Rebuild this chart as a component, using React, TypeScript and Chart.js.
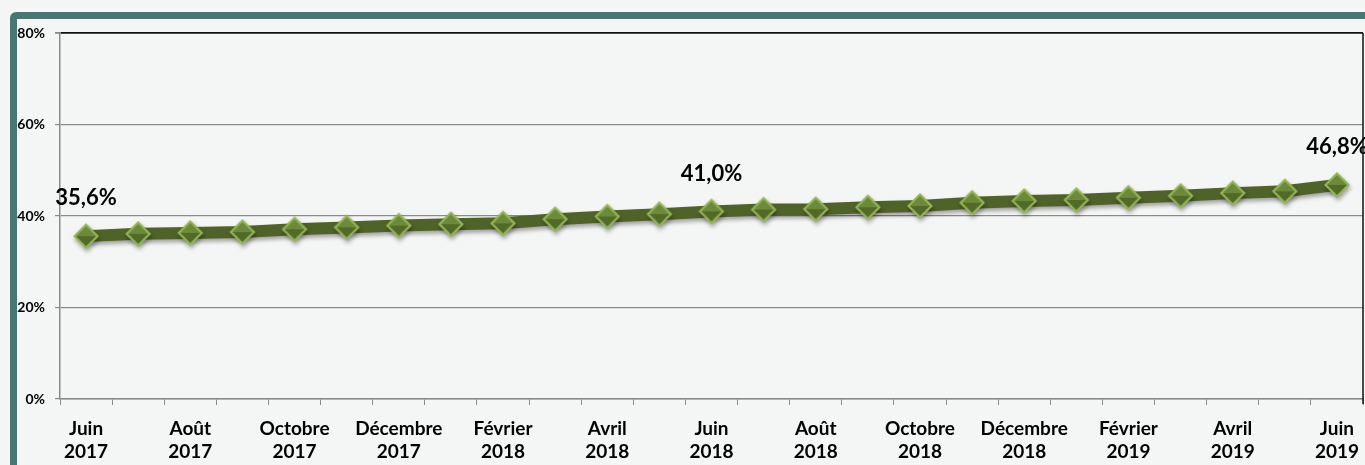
import React, { useEffect, useRef } from 'react';
import { Chart, registerables } from 'chart.js';

Chart.register(...registerables);

const months = [
  'Juin 2017', 'Juillet 2017', 'Août 2017', 'Septembre 2017', 'Octobre 2017', 'Novembre 2017',
  'Décembre 2017', 'Janvier 2018', 'Février 2018', 'Mars 2018', 'Avril 2018', 'Mai 2018',
  'Juin 2018', 'Juillet 2018', 'Août 2018', 'Septembre 2018', 'Octobre 2018', 'Novembre 2018',
  'Décembre 2018', 'Janvier 2019', 'Février 2019', 'Mars 2019', 'Avril 2019', 'Mai 2019', 'Juin 2019',
];
const rates = [
  35.6, 36.1, 36.3, 36.5, 37.1, 37.5, 37.9, 38.2, 38.4, 39.3, 39.9, 40.4,
  41.0, 41.4, 41.5, 41.9, 42.2, 42.9, 43.3, 43.5, 44.0, 44.4, 45.0, 45.4, 46.8,
];
const labelledPoints = [0, 12, 24];
const yMin = 0;
const yMax = 80;
const yStep = 20;

const BG = '#f4f6f6';
const FRAME = '#4b7773';
const GRID = '#8a8a8a';
const LINE = '#4f6228';

function makeMarker(): HTMLCanvasElement {
  const c = document.createElement('canvas');
  c.width = 30;
  c.height = 30;
  const g = c.getContext('2d')!;
  const cx = 15, cy = 15, r = 13;
  g.beginPath();
  g.moveTo(cx, cy - r); g.lineTo(cx + r, cy); g.lineTo(cx, cy + r); g.lineTo(cx - r, cy); g.closePath();
  g.fillStyle = '#94b655';
  g.fill();
  const ri = r - 3;
  g.beginPath();
  g.moveTo(cx - ri, cy); g.lineTo(cx, cy - ri); g.lineTo(cx + ri, cy); g.closePath();
  g.fillStyle = '#6c8a3a';
  g.fill();
  g.beginPath();
  g.moveTo(cx - ri, cy); g.lineTo(cx, cy + ri); g.lineTo(cx + ri, cy); g.closePath();
  g.fillStyle = '#516a28';
  g.fill();
  return c;
}

const decorPlugin = {
  id: 'decor',
  beforeDatasetsDraw(chart: any) {
    const ctx = chart.ctx;
    ctx.save();
    ctx.shadowColor = 'rgba(0,0,0,0.35)';
    ctx.shadowBlur = 4;
    ctx.shadowOffsetX = 1;
    ctx.shadowOffsetY = 3;
  },
  afterDatasetsDraw(chart: any) {
    const ctx = chart.ctx;
    ctx.restore();
    const meta = chart.getDatasetMeta(0);
    ctx.save();
    ctx.font = 'bold 22px Lato';
    ctx.fillStyle = '#000';
    ctx.textAlign = 'center';
    ctx.textBaseline = 'middle';
    labelledPoints.forEach((i) => {
      const p = meta.data[i];
      const txt = rates[i].toFixed(1).replace('.', ',') + '%';
      ctx.fillText(txt, p.x, p.y - 38);
    });
    ctx.restore();
  },
  afterDraw(chart: any) {
    const { ctx, chartArea } = chart;
    ctx.save();
    ctx.strokeStyle = '#111';
    ctx.lineWidth = 1.5;
    ctx.beginPath();
    ctx.moveTo(chartArea.right, chartArea.top);
    ctx.lineTo(chartArea.right, chartArea.bottom + 5);
    ctx.stroke();
    ctx.restore();
  },
};

export default function App() {
  const ref = useRef<HTMLCanvasElement>(null);

  useEffect(() => {
    if (!ref.current) return;
    const marker = makeMarker();
    const chart = new Chart(ref.current, {
      type: 'line',
      data: {
        labels: months,
        datasets: [
          {
            data: rates,
            borderColor: LINE,
            borderWidth: 12,
            tension: 0,
            pointStyle: marker as any,
            pointRadius: 13,
            pointHoverRadius: 13,
            clip: false as any,
          },
        ],
      },
      options: {
        animation: false,
        responsive: false,
        devicePixelRatio: 1,
        events: [],
        layout: { autoPadding: false, padding: { left: 0, right: 2, top: 33, bottom: 0 } },
        plugins: { legend: { display: false }, tooltip: { enabled: false } },
        scales: {
          x: {
            offset: true,
            afterFit: (s: any) => {
              s.height = 66;
              s.paddingLeft = 0;
              s.paddingRight = 0;
            },
            grid: { offset: true, drawOnChartArea: false, tickLength: 6, color: GRID },
            border: { color: GRID, width: 1.5 },
            ticks: {
              autoSkip: false,
              maxRotation: 0,
              minRotation: 0,
              padding: 12,
              color: '#000',
              font: { family: 'Lato', weight: 'bold', size: 19, lineHeight: 1.22 },
              callback: (_v: any, i: number) => (i % 2 === 0 ? months[i].split(' ') : ''),
            },
          },
          y: {
            min: yMin,
            max: yMax,
            afterFit: (s: any) => { s.width = 60; },
            grid: {
              color: (c: any) => (c.tick && c.tick.value === yMax ? '#111' : GRID),
              lineWidth: (c: any) => (c.tick && c.tick.value === yMax ? 1.8 : 1.2),
              tickLength: 5,
              tickColor: GRID,
            },
            border: { color: GRID, width: 1.5 },
            ticks: {
              stepSize: yStep,
              padding: 10,
              color: '#000',
              font: { family: 'Lato', weight: 'bold', size: 14 },
              callback: (v: any) => v + '%',
            },
          },
        },
      },
      plugins: [decorPlugin],
    });
    return () => chart.destroy();
  }, []);

  return (
    <div style={{ position: 'fixed', left: 0, top: 0, width: 1365, height: 465, background: BG, overflow: 'hidden' }}>
      <div
        style={{
          position: 'absolute',
          left: 10,
          top: 12,
          width: 1420,
          height: 520,
          border: `7px solid ${FRAME}`,
          borderRadius: 6,
          boxSizing: 'border-box',
        }}
      />
      <canvas ref={ref} width={1365} height={465} style={{ position: 'absolute', left: 0, top: 0 }} />
    </div>
  );
}
